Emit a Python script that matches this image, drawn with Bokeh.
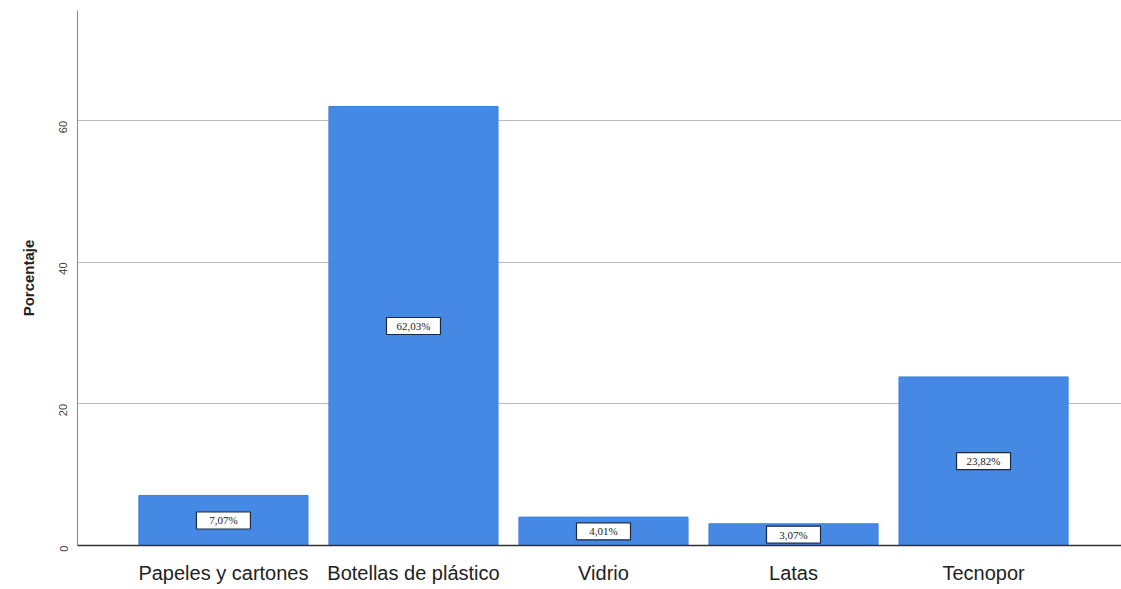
import math
from bokeh.plotting import figure
from bokeh.models import ColumnDataSource, LabelSet, FixedTicker
from bokeh.embed import file_html
from bokeh.resources import INLINE

categories = ["Papeles y cartones", "Botellas de plástico", "Vidrio", "Latas", "Tecnopor"]
values = [7.07, 62.03, 4.01, 3.07, 23.82]
value_labels = ["7,07%", "62,03%", "4,01%", "3,07%", "23,82%"]
y_ticks = [0, 20, 40, 60]

idx = list(range(len(categories)))
src = ColumnDataSource(dict(
    x=idx,
    top=values,
    mid=[v / 2 for v in values],
    lab=value_labels,
))

p = figure(width=1121, height=589, output_backend="svg", toolbar_location=None,
           x_range=(-0.768, 4.726), y_range=(0, 75.6),
           min_border_left=77, min_border_right=0, min_border_top=10, min_border_bottom=44)
p.outline_line_color = None
p.background_fill_color = "white"

p.vbar(x="x", top="top", width=0.89, source=src, fill_color="#4689e4", line_color="#3c80dc")

# label boxes
p.rect(x="x", y="mid", width=54, height=17, width_units="screen", height_units="screen",
       source=src, fill_color="white", line_color="#1a2a44", line_width=1.2)

labels = LabelSet(x="x", y="mid", text="lab", source=src, text_align="center", text_baseline="middle",
                  text_font="Liberation Sans", text_font_size="11px", text_color="#222222")
p.add_layout(labels)

p.xaxis.ticker = FixedTicker(ticks=idx)
p.xaxis.major_label_overrides = {i: c for i, c in zip(idx, categories)}
p.xaxis.major_label_text_font = "Liberation Sans"
p.xaxis.major_label_text_font_size = "20px"
p.xaxis.major_label_text_color = "#222222"
p.xaxis.major_tick_line_color = None
p.xaxis.minor_tick_line_color = None
p.xaxis.major_tick_out = 0
p.xaxis.major_tick_in = 0
p.xaxis.major_label_standoff = 16
p.xaxis.axis_line_color = "#333333"
p.xaxis.axis_line_width = 1.5

p.yaxis.ticker = FixedTicker(ticks=y_ticks)
p.yaxis.major_label_orientation = math.pi / 2
p.yaxis.major_label_text_font = "Liberation Sans"
p.yaxis.major_label_text_font_size = "11px"
p.yaxis.major_label_text_color = "#444444"
p.yaxis.major_tick_line_color = None
p.yaxis.minor_tick_line_color = None
p.yaxis.major_label_standoff = 8
p.yaxis.axis_line_color = "#888888"
p.yaxis.axis_label = "Porcentaje"
p.yaxis.axis_label_text_font = "Liberation Sans"
p.yaxis.axis_label_text_font_size = "15px"
p.yaxis.axis_label_text_font_style = "bold"
p.yaxis.axis_label_text_color = "#222222"
p.yaxis.axis_label_standoff = 16

p.xgrid.grid_line_color = None
p.ygrid.ticker = FixedTicker(ticks=y_ticks[1:])
p.ygrid.grid_line_color = "#bbbbbb"

open("out.html", "w").write(file_html(p, INLINE))
